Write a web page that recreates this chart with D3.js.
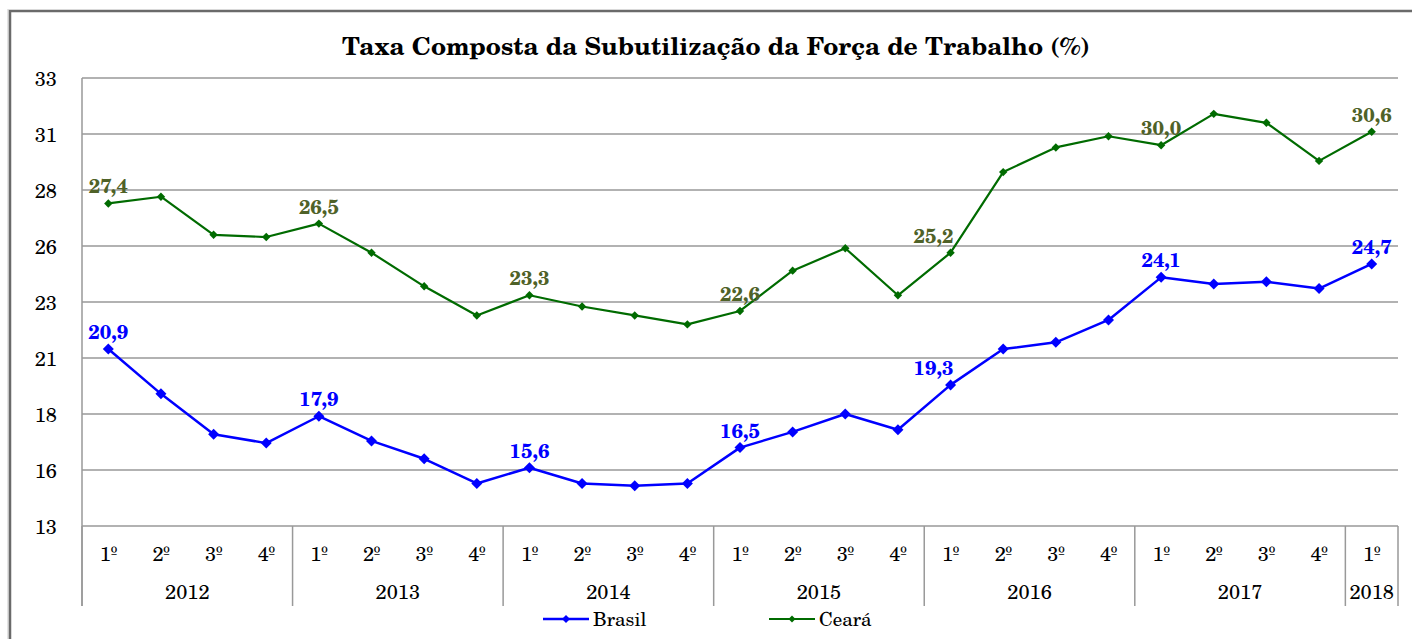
<!DOCTYPE html>
<html>
<head>
<meta charset="utf-8">
<script src="https://cdn.jsdelivr.net/npm/d3@7"></script>
<style>
  html, body { margin: 0; padding: 0; background: #fff; }
  svg { display: block; }
</style>
</head>
<body>
<svg id="chart" width="1412" height="639"></svg>
<script>
// ---- data ----
const years = ["2012", "2013", "2014", "2015", "2016", "2017", "2018"];
const quarters = ["1º", "2º", "3º", "4º", "1º", "2º", "3º", "4º", "1º", "2º", "3º", "4º", "1º", "2º", "3º", "4º", "1º", "2º", "3º", "4º", "1º", "2º", "3º", "4º", "1º"];
const quarterYear = ["2012","2012","2012","2012","2013","2013","2013","2013","2014","2014","2014","2014","2015","2015","2015","2015","2016","2016","2016","2016","2017","2017","2017","2017","2018"];
const brasil = [20.9, 18.9, 17.1, 16.7, 17.9, 16.8, 16.0, 14.9, 15.6, 14.9, 14.8, 14.9, 16.5, 17.2, 18.0, 17.3, 19.3, 20.9, 21.2, 22.2, 24.1, 23.8, 23.9, 23.6, 24.7];
const ceara  = [27.4, 27.7, 26.0, 25.9, 26.5, 25.2, 23.7, 22.4, 23.3, 22.8, 22.4, 22.0, 22.6, 24.4, 25.4, 23.3, 25.2, 28.8, 29.9, 30.4, 30.0, 31.4, 31.0, 29.3, 30.6];
const labelIdx = [0, 4, 8, 12, 16, 20, 24];
const yTicks = [13, 15.5, 18, 20.5, 23, 25.5, 28, 30.5, 33];
const title = "Taxa Composta da Subutilização da Força de Trabalho (%)";

// ---- layout ----
const FONT = '"TeX Gyre Schola", "Century Schoolbook", "C059", "Liberation Serif", serif';
const svg = d3.select("#chart").style("font-family", FONT);
const L = 82, R = 1398, T = 78, B = 526;
const idx = d3.range(quarters.length);
const x = d3.scaleBand().domain(idx).range([L, R]).padding(0);
const cx = i => x(i) + x.bandwidth() / 2;
const y = d3.scaleLinear().domain([13, 33]).range([B, T]);
const fmtTick = d3.format(".0f");
const fmtLab = v => v.toFixed(1).replace(".", ",");

// frame
svg.append("line").attr("x1", 8).attr("x2", 8).attr("y1", 9).attr("y2", 639).attr("stroke", "#c8c8c8").attr("stroke-width", 1);
svg.append("path").attr("d", "M10,639 V11 H1412").attr("fill", "none").attr("stroke", "#6a6a6a").attr("stroke-width", 2.5);

// title
svg.append("text").attr("x", 716).attr("y", 55).attr("text-anchor", "middle")
  .style("font-family", FONT)
  .attr("font-size", 24).attr("font-weight", "bold").attr("fill", "#000")
  .attr("textLength", 748).attr("lengthAdjust", "spacingAndGlyphs")
  .text(title);

// gridlines
svg.append("g").selectAll("line").data(yTicks).join("line")
  .attr("x1", L).attr("x2", R).attr("y1", d => y(d)).attr("y2", d => y(d))
  .attr("stroke", "#999").attr("stroke-width", 1.5);

// y axis
const yAxis = d3.axisLeft(y).tickValues(yTicks).tickFormat(fmtTick).tickSize(0).tickPadding(25);
const gy = svg.append("g").attr("transform", `translate(${L},0)`).call(yAxis);
gy.select(".domain").remove();
gy.selectAll("text").style("font-family", FONT).attr("font-size", 20).attr("fill", "#000").attr("dy", "0.35em");

// y axis line (extends down through category area)
svg.append("line").attr("x1", L).attr("x2", L).attr("y1", T).attr("y2", 606).attr("stroke", "#999").attr("stroke-width", 1.5);

// x axis (quarters)
const xAxis = d3.axisBottom(x).tickFormat(i => quarters[i]).tickSize(0).tickPadding(21);
const gx = svg.append("g").attr("transform", `translate(0,${B})`).call(xAxis);
gx.select(".domain").remove();
gx.selectAll("text").style("font-family", FONT).attr("font-size", 20).attr("fill", "#000");

// year groups
const groups = years.map(yr => {
  const members = idx.filter(i => quarterYear[i] === yr);
  return { yr, x0: x(members[0]), x1: x(members[members.length - 1]) + x.bandwidth() };
});
const bounds = [L].concat(groups.map(g => g.x1));
svg.append("g").selectAll("line").data(bounds).join("line")
  .attr("x1", d => d).attr("x2", d => d).attr("y1", B).attr("y2", 606)
  .attr("stroke", "#999").attr("stroke-width", 1.5);
svg.append("g").selectAll("text").data(groups).join("text")
  .attr("x", d => (d.x0 + d.x1) / 2).attr("y", 599).attr("text-anchor", "middle")
  .style("font-family", FONT)
  .attr("font-size", 20).attr("fill", "#000").text(d => d.yr);

// series
const series = [
  { name: "Brasil", values: brasil, color: "#0000ff", labelColor: "#0000ff", width: 2.5, marker: 5.5 },
  { name: "Ceará", values: ceara, color: "#006b00", labelColor: "#4f6228", width: 2.2, marker: 4.2 }
];
const diamond = s => `M0,${-s} L${s},0 L0,${s} L${-s},0 Z`;
const line = d3.line().x((d, i) => cx(i)).y(d => y(d));
series.forEach(s => {
  svg.append("path").datum(s.values).attr("d", line).attr("fill", "none")
    .attr("stroke", s.color).attr("stroke-width", s.width).attr("stroke-linejoin", "round");
  svg.append("g").selectAll("path").data(s.values).join("path")
    .attr("transform", (d, i) => `translate(${cx(i)},${y(d)})`)
    .attr("d", diamond(s.marker)).attr("fill", s.color);
  svg.append("g").selectAll("text").data(labelIdx).join("text")
    .attr("x", i => cx(i) + (i === 16 ? -17 : 0))
    .attr("y", i => y(s.values[i]) - 10)
    .attr("text-anchor", "middle")
    .style("font-family", FONT)
    .attr("font-size", 20).attr("font-weight", "bold")
    .attr("fill", s.labelColor).text(i => fmtLab(s.values[i]));
});

// legend
const legendPos = [543, 769];
series.forEach((s, k) => {
  const g = svg.append("g").attr("transform", `translate(${legendPos[k]},619)`);
  g.append("line").attr("x1", 0).attr("x2", 46).attr("y1", 0).attr("y2", 0).attr("stroke", s.color).attr("stroke-width", s.width);
  g.append("path").attr("transform", "translate(23,0)").attr("d", diamond(k === 0 ? 4 : 3.5)).attr("fill", s.color);
  g.append("text").attr("x", 50).attr("y", 7).style("font-family", FONT)
    .attr("font-size", 19).attr("fill", "#000").text(s.name);
});
</script>
</body>
</html>
